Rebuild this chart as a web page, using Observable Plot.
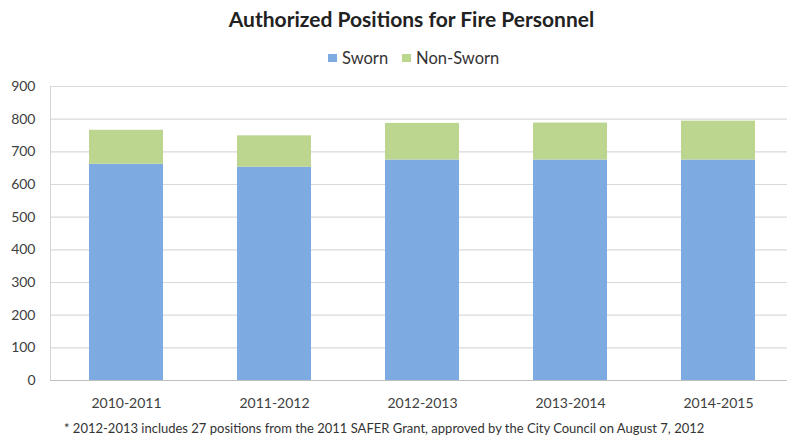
<!DOCTYPE html>
<html>
<head>
<meta charset="utf-8">
<script src="https://cdn.jsdelivr.net/npm/d3@7"></script>
<script src="https://cdn.jsdelivr.net/npm/@observablehq/plot@0.6"></script>
<style>
  html, body { margin: 0; padding: 0; background: #fff; }
  #wrap { position: relative; width: 787px; height: 441px; font-family: Lato, "Open Sans", sans-serif; color: #333; overflow: hidden; }
  #title { position: absolute; top: 8px; left: 0; width: 787px; text-align: center; font-size: 21px; line-height: 21px; font-weight: bold; color: #222; padding-left: 36px; box-sizing: border-box; }
  #legend { position: absolute; top: 50px; left: 328px; display: flex; align-items: center; font-size: 16.5px; line-height: 16px; color: #333; }
  #legend .sw { width: 9px; height: 8px; display: inline-block; margin-right: 5px; }
  #legend .item { display: flex; align-items: center; margin-right: 14px; }
  #chart { position: absolute; top: 72px; left: 0; }
  #note { position: absolute; top: 421px; left: 64px; font-size: 13px; line-height: 14px; color: #333; white-space: nowrap; }
</style>
</head>
<body>
<div id="wrap">
  <div id="title">Authorized Positions for Fire Personnel</div>
  <div id="legend"></div>
  <div id="chart"></div>
  <div id="note">* 2012-2013 includes 27 positions from the 2011 SAFER Grant, approved by the City Council on August 7, 2012</div>
</div>
<script>
const seasons = ["2010-2011", "2011-2012", "2012-2013", "2013-2014", "2014-2015"];
const sworn = [662, 653, 675, 675, 675];
const nonSworn = [104, 96, 112, 113, 119];
const seriesNames = ["Sworn", "Non-Sworn"];
const seriesColors = ["#7eaae2", "#bdd68f"];
const yTicks = [0, 100, 200, 300, 400, 500, 600, 700, 800, 900];

const data = seasons.flatMap((s, i) => [
  {season: s, series: "Sworn", value: sworn[i]},
  {season: s, series: "Non-Sworn", value: nonSworn[i]}
]);

// legend (HTML, above the SVG)
const legend = document.getElementById("legend");
seriesNames.forEach((name, i) => {
  const item = document.createElement("span");
  item.className = "item";
  const sw = document.createElement("span");
  sw.className = "sw";
  sw.style.background = seriesColors[i];
  item.appendChild(sw);
  item.appendChild(document.createTextNode(name));
  legend.appendChild(item);
});

const chart = Plot.plot({
  width: 787,
  height: 340,
  marginTop: 14,
  marginBottom: 32,
  marginLeft: 50,
  marginRight: 0,
  style: {fontFamily: "Lato, 'Open Sans', sans-serif", fontSize: "14px", color: "#404040", background: "transparent"},
  x: {domain: seasons, range: [50, 794], paddingInner: 0.5, paddingOuter: 0.25, label: null},
  y: {domain: [0, 900], ticks: yTicks, label: null},
  color: {domain: seriesNames, range: seriesColors},
  marks: [
    Plot.ruleY(yTicks.filter(d => d > 0), {stroke: "#d9d9d9", strokeWidth: 1.2}),
    Plot.frame({anchor: "left", stroke: "#d4d4d4"}),
    Plot.barY(data, {x: "season", y: "value", fill: "series", inset: 0}),
    Plot.ruleY([0], {stroke: "#bfbfbf", strokeWidth: 1.2}),
    Plot.axisY({ticks: yTicks, tickSize: 0, tickPadding: 15, fontSize: 14, tickFormat: d => String(d)}),
    Plot.axisX({tickSize: 0, tickPadding: 18, fontSize: 14})
  ]
});
document.getElementById("chart").appendChild(chart);
</script>
</body>
</html>
